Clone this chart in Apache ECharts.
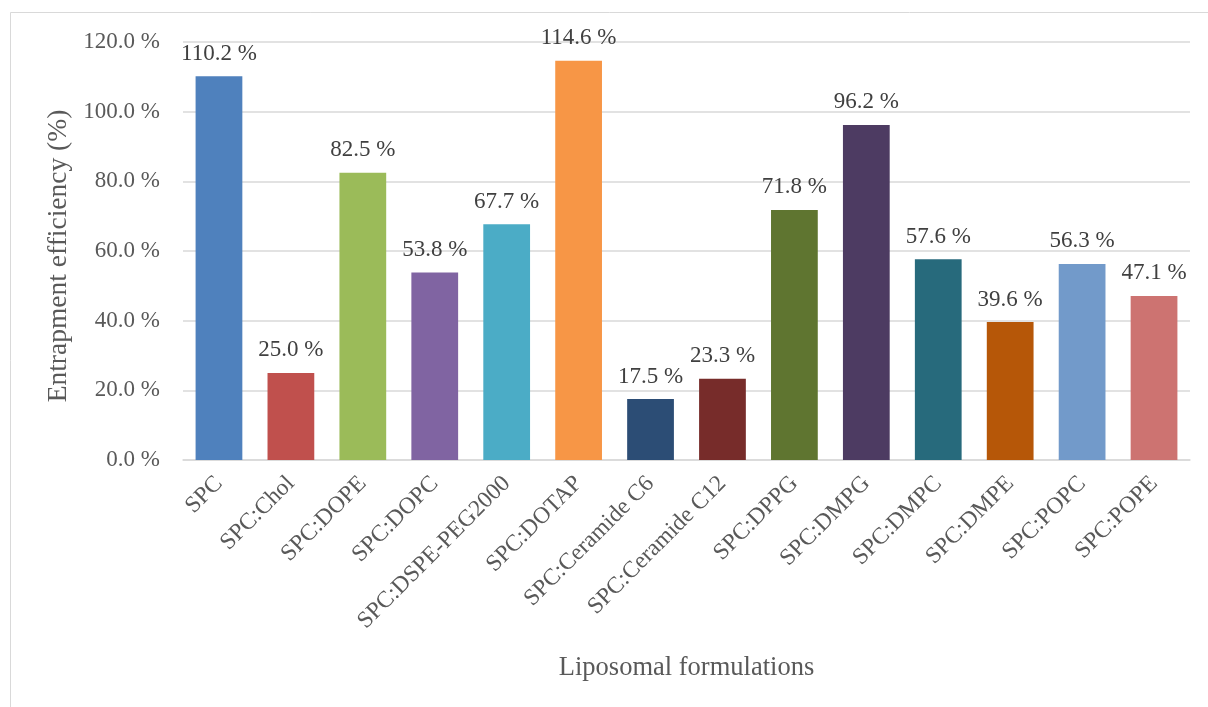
<!DOCTYPE html>
<html>
<head>
<meta charset="utf-8">
<style>
  html, body { margin: 0; padding: 0; background: #fff; }
  #chart { width: 1208px; height: 707px; }
</style>
<script src="https://cdn.jsdelivr.net/npm/echarts@6/dist/echarts.min.js"></script>
</head>
<body>
<div id="chart"></div>
<script>
// Liposomal formulations and their entrapment efficiency (%)
const categories = [
  'SPC', 'SPC:Chol', 'SPC:DOPE', 'SPC:DOPC', 'SPC:DSPE-PEG2000', 'SPC:DOTAP',
  'SPC:Ceramide C6', 'SPC:Ceramide C12', 'SPC:DPPG', 'SPC:DMPG', 'SPC:DMPC',
  'SPC:DMPE', 'SPC:POPC', 'SPC:POPE'
];
const efficiency = [110.2, 25.0, 82.5, 53.8, 67.7, 114.6, 17.5, 23.3, 71.8, 96.2, 57.6, 39.6, 56.3, 47.1];
const barColors = [
  '#4F81BD', '#C0504D', '#9BBB59', '#8064A2', '#4BACC6', '#F79646', '#2C4D75',
  '#772C2A', '#5F7530', '#4D3B62', '#276A7C', '#B65708', '#729ACA', '#CD7371'
];
const yTicks = { min: 0, max: 120, interval: 20 };

const font = '"Liberation Serif", "Times New Roman", serif';
const textColor = '#595959';

const chart = echarts.init(document.getElementById('chart'), null, { renderer: 'canvas' });
chart.setOption({
  backgroundColor: '#ffffff',
  animation: false,
  graphic: [{
    type: 'rect',
    shape: { x: 10.5, y: 12.5, width: 1220, height: 720 },
    style: { fill: 'none', stroke: '#D9D9D9', lineWidth: 1 },
    silent: true,
    z: -1
  }],
  grid: { left: 183, right: 18, top: 42, bottom: 247, containLabel: false },
  xAxis: {
    type: 'category',
    data: categories,
    name: 'Liposomal formulations',
    nameLocation: 'middle',
    nameGap: 195,
    nameTextStyle: { fontFamily: font, fontSize: 26.5, color: textColor },
    axisLine: { lineStyle: { color: '#D9D9D9', width: 1.5 } },
    axisTick: { show: false },
    axisLabel: {
      rotate: 45,
      interval: 0,
      margin: 20,
      fontFamily: font,
      fontSize: 23.5,
      color: textColor
    }
  },
  yAxis: {
    type: 'value',
    min: yTicks.min,
    max: yTicks.max,
    interval: yTicks.interval,
    name: 'Entrapment efficiency (%)',
    nameLocation: 'middle',
    nameGap: 108,
    nameTextStyle: { fontFamily: font, fontSize: 27.5, color: textColor, padding: [0, 10, 0, 0] },
    axisLine: { show: false },
    axisTick: { show: false },
    splitLine: { lineStyle: { color: '#D9D9D9', width: 1.5 } },
    axisLabel: {
      margin: 23,
      fontFamily: font,
      fontSize: 23,
      color: textColor,
      formatter: v => v.toFixed(1) + ' %'
    }
  },
  series: [{
    type: 'bar',
    data: efficiency.map((v, i) => ({ value: v, itemStyle: { color: barColors[i] } })),
    barWidth: '65%',
    label: {
      show: true,
      position: 'top',
      distance: 11,
      fontFamily: font,
      fontSize: 23,
      color: '#404040',
      formatter: p => p.value.toFixed(1) + ' %'
    }
  }]
});
</script>
</body>
</html>
